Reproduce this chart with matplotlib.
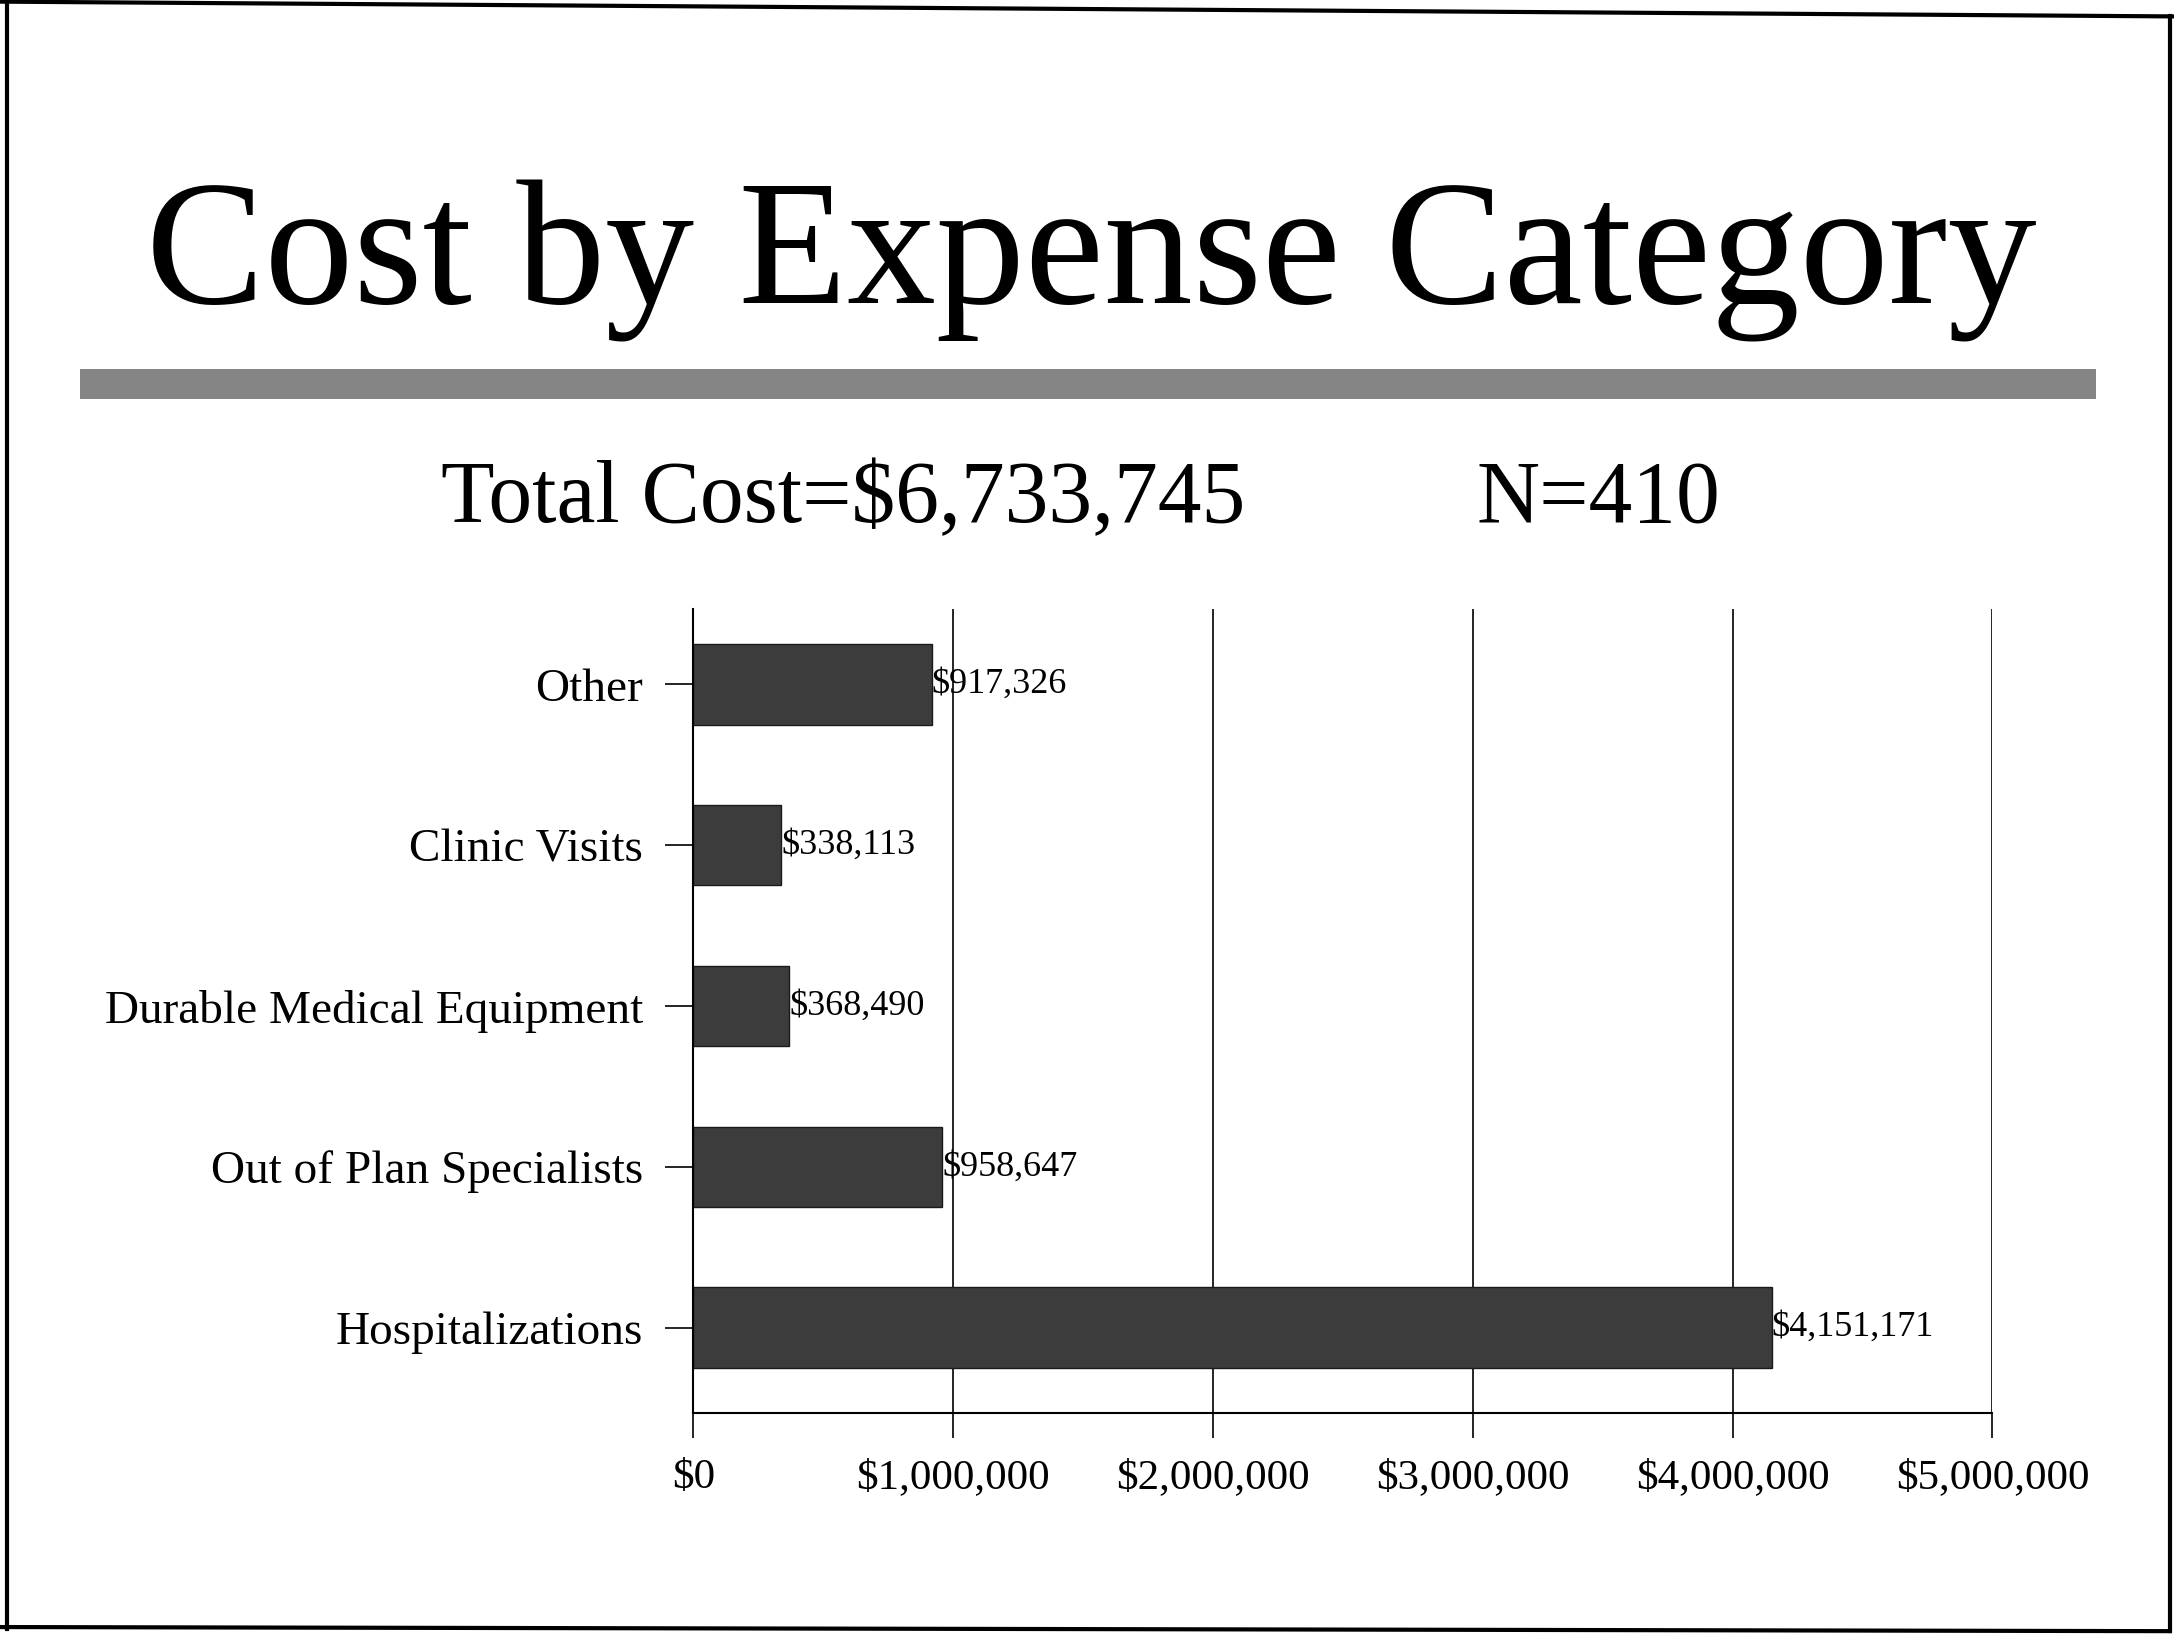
import matplotlib
matplotlib.use("Agg")
import matplotlib.pyplot as plt
from matplotlib.lines import Line2D
from matplotlib.patches import Rectangle
from matplotlib.ticker import FuncFormatter

categories = ["Hospitalizations", "Out of Plan Specialists", "Durable Medical Equipment",
              "Clinic Visits", "Other"]
costs = [4151171, 958647, 368490, 338113, 917326]
x_ticks = [0, 1000000, 2000000, 3000000, 4000000, 5000000]
title_text = "Cost by Expense Category"
subtitle_left = "Total Cost=$6,733,745"
subtitle_right = "N=410"

plt.rcParams['font.family'] = ['Liberation Serif', 'DejaVu Serif']

fig = plt.figure(figsize=(21.74, 16.41), dpi=100)
fig.patch.set_facecolor('white')

# frame around the slide
fig.add_artist(Line2D([0.0, 1.0], [0.999, 0.990], color='black', lw=3, transform=fig.transFigure))
fig.add_artist(Line2D([0.003, 0.003], [0.0075, 0.999], color='black', lw=3, transform=fig.transFigure))
fig.add_artist(Line2D([0.998, 0.998], [0.006, 0.990], color='black', lw=3, transform=fig.transFigure))
fig.add_artist(Line2D([0.0, 0.998], [0.0085, 0.006], color='black', lw=3, transform=fig.transFigure))

# title
fig.text(0.502, 0.815, title_text, ha='center', va='baseline', fontsize=128, color='black')

# gray rule
fig.add_artist(Rectangle((0.037, 0.757), 0.927, 0.018, transform=fig.transFigure,
                         facecolor='#858585', edgecolor='none'))

# subtitle
fig.text(0.203, 0.682, subtitle_left, ha='left', va='baseline', fontsize=63, color='black')
fig.text(0.679, 0.682, subtitle_right, ha='left', va='baseline', fontsize=63, color='black')

ax = fig.add_axes([0.3189, 0.139, 0.9165 - 0.3189, 0.629 - 0.139])
ypos = list(range(len(categories)))
ax.barh(ypos, costs, height=0.5, color='#3c3c3c', edgecolor='#1a1a1a', linewidth=1, zorder=3)
for y, v in zip(ypos, costs):
    ax.text(v, y, f"${v:,.0f}", ha='left', va='center', fontsize=26, color='black', zorder=4)

ax.set_xlim(0, 5000000)
ax.set_ylim(-0.53, len(categories) - 0.53)
ax.set_xticks(x_ticks)
ax.xaxis.set_major_formatter(FuncFormatter(lambda v, p: f"${v:,.0f}"))
ax.set_yticks(ypos)
ax.set_yticklabels(categories)
ax.grid(axis='x', color='black', linewidth=1.2, zorder=1)
ax.tick_params(axis='x', direction='out', length=18, width=1.2, pad=15, labelsize=31, colors='black')
ax.tick_params(axis='y', direction='out', length=20, width=1.2, pad=16, labelsize=34, colors='black')
for s in ['top', 'right']:
    ax.spines[s].set_visible(False)
ax.spines['left'].set_linewidth(1.5)
ax.spines['bottom'].set_linewidth(1.5)
ax.spines['left'].set_zorder(5)

fig.savefig('out.png', dpi=100, facecolor='white')
